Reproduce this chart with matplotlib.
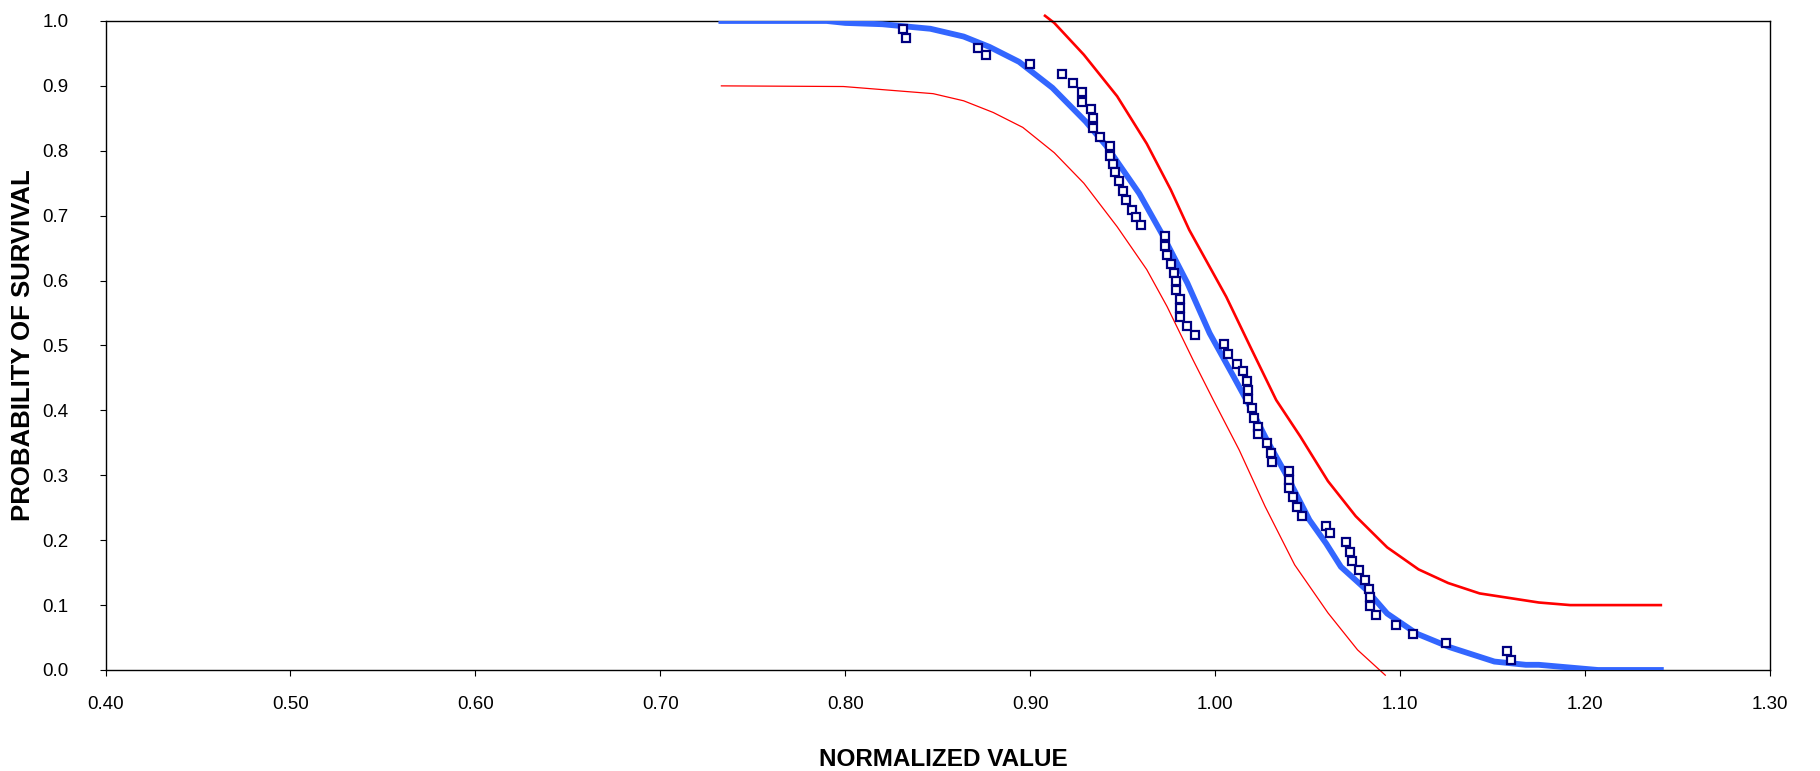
import matplotlib
matplotlib.use("Agg")
import matplotlib.pyplot as plt
from matplotlib.ticker import FixedLocator, FormatStrFormatter

plt.rcParams['font.family'] = ['Liberation Sans', 'DejaVu Sans']

# Observed data points (normalized value, probability of survival)
obs_x = [0.831, 0.833, 0.872, 0.876, 0.900, 0.917, 0.923, 0.928, 0.928, 0.933,
         0.934, 0.934, 0.938, 0.943, 0.943, 0.945, 0.946, 0.948, 0.950, 0.952,
         0.955, 0.957, 0.960, 0.973, 0.973, 0.974, 0.976, 0.978, 0.979, 0.979,
         0.981, 0.981, 0.981, 0.985, 0.989, 1.005, 1.007, 1.012, 1.015, 1.017,
         1.018, 1.018, 1.020, 1.021, 1.023, 1.023, 1.028, 1.030, 1.031, 1.040,
         1.040, 1.040, 1.042, 1.044, 1.047, 1.060, 1.062, 1.071, 1.073, 1.074,
         1.078, 1.081, 1.083, 1.084, 1.084, 1.087, 1.098, 1.107, 1.125, 1.158,
         1.160]
obs_p = [0.988, 0.973, 0.959, 0.948, 0.933, 0.918, 0.904, 0.890, 0.875, 0.864,
         0.850, 0.835, 0.821, 0.807, 0.792, 0.780, 0.767, 0.753, 0.738, 0.724,
         0.709, 0.698, 0.685, 0.668, 0.654, 0.640, 0.625, 0.612, 0.600, 0.586,
         0.571, 0.557, 0.544, 0.530, 0.516, 0.502, 0.487, 0.472, 0.460, 0.446,
         0.432, 0.418, 0.404, 0.388, 0.375, 0.364, 0.350, 0.335, 0.321, 0.306,
         0.293, 0.281, 0.266, 0.251, 0.237, 0.222, 0.211, 0.197, 0.182, 0.168,
         0.154, 0.139, 0.125, 0.112, 0.098, 0.085, 0.070, 0.055, 0.041, 0.030,
         0.016]

# Fitted survival curve (blue)
fit_x = [0.733, 0.790, 0.800, 0.820, 0.846, 0.864, 0.878, 0.894, 0.912, 0.930,
         0.941, 0.959, 0.972, 0.985, 0.997, 1.010, 1.019, 1.028, 1.039, 1.051,
         1.060, 1.068, 1.082, 1.093, 1.109, 1.127, 1.151, 1.168, 1.175, 1.207,
         1.241]
fit_p = [1.000, 1.000, 0.997, 0.995, 0.988, 0.976, 0.960, 0.937, 0.897, 0.845,
         0.808, 0.734, 0.668, 0.596, 0.519, 0.452, 0.405, 0.354, 0.298, 0.231,
         0.195, 0.159, 0.123, 0.087, 0.056, 0.035, 0.013, 0.008, 0.008, 0.000,
         0.000]

# Upper bound (thick red)
up_x = [0.908, 0.913, 0.929, 0.947, 0.963, 0.976, 0.986, 1.006, 1.019, 1.033,
        1.046, 1.061, 1.076, 1.093, 1.110, 1.126, 1.143, 1.175, 1.192, 1.241]
up_p = [1.008, 0.997, 0.948, 0.884, 0.811, 0.740, 0.678, 0.575, 0.498, 0.416,
        0.360, 0.291, 0.237, 0.189, 0.155, 0.134, 0.118, 0.104, 0.100, 0.100]

# Lower bound (thin red)
lo_x = [0.733, 0.799, 0.8475, 0.864, 0.880, 0.896, 0.913, 0.929, 0.947, 0.963,
        0.974, 0.988, 0.999, 1.013, 1.027, 1.043, 1.061, 1.077, 1.092]
lo_p = [0.900, 0.899, 0.888, 0.877, 0.859, 0.836, 0.797, 0.750, 0.683, 0.617,
        0.560, 0.478, 0.416, 0.339, 0.252, 0.162, 0.088, 0.031, -0.008]

x_ticks = [0.40, 0.50, 0.60, 0.70, 0.80, 0.90, 1.00, 1.10, 1.20, 1.30]
y_ticks = [0.0, 0.1, 0.2, 0.3, 0.4, 0.5, 0.6, 0.7, 0.8, 0.9, 1.0]

fig = plt.figure(figsize=(18.2, 7.71), dpi=100)
ax = fig.add_axes([0.0580, 0.1310, 0.9145, 0.8418])

ax.plot(lo_x, lo_p, color='#FF0000', lw=0.9, clip_on=False, zorder=2)
ax.plot(up_x, up_p, color='#FF0000', lw=1.9, clip_on=False, zorder=2)
ax.plot(fit_x, fit_p, color='#3366FF', lw=4.2, solid_joinstyle='round', zorder=3)
ax.plot(obs_x, obs_p, linestyle='none', marker='s', markersize=5.4,
        markerfacecolor='white', markeredgecolor='#000080', markeredgewidth=1.6,
        zorder=4)

ax.set_xlim(0.40, 1.30)
ax.set_ylim(0.0, 1.0)
ax.xaxis.set_major_locator(FixedLocator(x_ticks))
ax.yaxis.set_major_locator(FixedLocator(y_ticks))
ax.xaxis.set_major_formatter(FormatStrFormatter('%.2f'))
ax.yaxis.set_major_formatter(FormatStrFormatter('%.1f'))

ax.tick_params(axis='both', direction='out', length=4.5, width=0.8,
               labelsize=13.5, colors='black')
ax.tick_params(axis='y', pad=22)
ax.tick_params(axis='x', pad=14)

for s in ax.spines.values():
    s.set_linewidth(1.0)
    s.set_color('black')

ax.set_xlabel('NORMALIZED VALUE', fontsize=17.5, fontweight='bold', va='center')
ax.xaxis.set_label_coords(0.5035, -0.1375)
ax.set_ylabel('PROBABILITY OF SURVIVAL', fontsize=18.5, fontweight='bold',
              va='center', ha='center')
ax.yaxis.set_label_coords(-0.0496, 0.5)

fig.savefig('out.png', dpi=100)
